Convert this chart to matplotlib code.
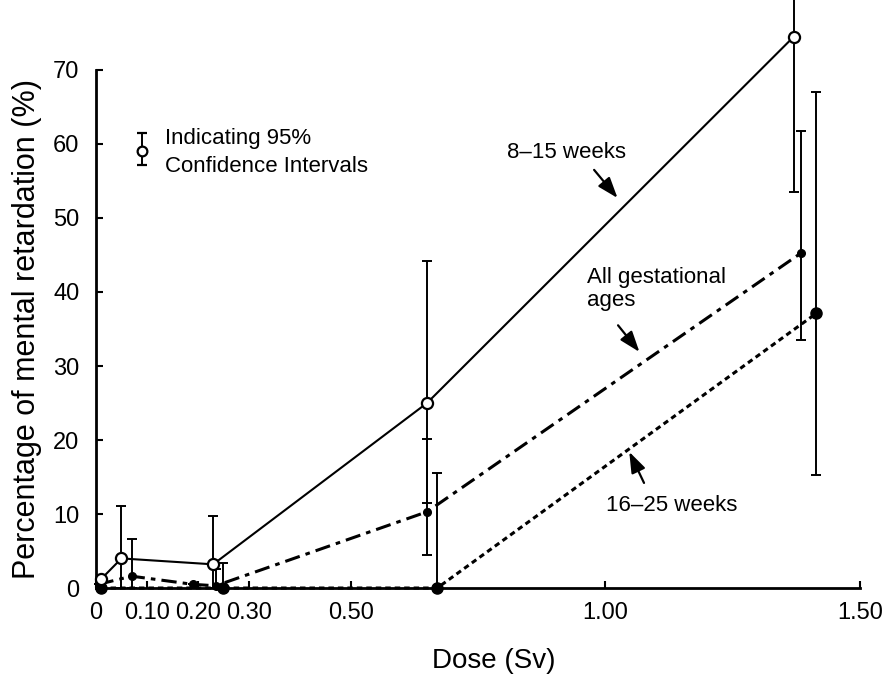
import matplotlib
matplotlib.use("Agg")
import matplotlib.pyplot as plt

plt.rcParams['font.family'] = ['Liberation Sans', 'DejaVu Sans']

# dose (Sv) and percentage with 95% CI bounds
w8_dose = [0.01, 0.05, 0.23, 0.65, 1.37]
w8_pct = [1.2, 4.0, 3.2, 25.0, 74.5]
w8_low = [1.2, 0.0, 0.0, 11.5, 53.5]
w8_high = [1.2, 11.1, 9.7, 44.2, 82.0]

all_dose = [0.005, 0.07, 0.19, 0.235, 0.65, 1.385]
all_pct = [0.5, 1.6, 0.5, 0.3, 10.3, 45.3]
all_low = [0.5, 0.0, 0.5, 0.0, 4.5, 33.5]
all_high = [0.5, 6.6, 0.5, 2.6, 20.2, 61.8]

w16_dose = [0.01, 0.25, 0.67, 1.414]
w16_pct = [0.0, 0.0, 0.0, 37.1]
w16_low = [0.0, 0.0, 0.0, 15.3]
w16_high = [0.0, 3.4, 15.6, 67.0]

x_ticks = [0, 0.10, 0.20, 0.30, 0.50, 1.00, 1.50]
x_labels = ["0", "0.10", "0.20", "0.30", "0.50", "1.00", "1.50"]
y_ticks = [0, 10, 20, 30, 40, 50, 60, 70]


def _err(vals, low, high):
    return [[v - l for v, l in zip(vals, low)], [h - v for v, h in zip(vals, high)]]


fig = plt.figure(figsize=(8.92, 6.82), dpi=100)
ax = fig.add_axes([0.1076, 0.1378, 0.8565, 0.7596])

ebkw = dict(ecolor="black", elinewidth=1.4, capsize=3.5, capthick=1.4, fmt="none")

# error bars
for d, p, lo, hi in [(w8_dose, w8_pct, w8_low, w8_high),
                     (all_dose, all_pct, all_low, all_high),
                     (w16_dose, w16_pct, w16_low, w16_high)]:
    eb = ax.errorbar(d, p, yerr=_err(p, lo, hi), **ebkw)
    for art in eb.lines[1] + eb.lines[2]:
        art.set_clip_on(False)

# 8-15 weeks
ax.plot(w8_dose, w8_pct, color="black", lw=1.5, marker="o", ms=8,
        mfc="white", mec="black", mew=1.6, clip_on=False, zorder=5)
# all gestational ages
ax.plot(all_dose, all_pct, color="black", lw=2.2, dashes=(5, 2, 1.5, 2),
        marker="o", ms=5.5, mfc="black", mec="black", clip_on=False, zorder=4)
# 16-25 weeks
ax.plot(w16_dose, w16_pct, color="black", lw=2.2, dashes=(1.8, 1.3),
        marker="o", ms=8, mfc="black", mec="black", clip_on=False, zorder=4)

ax.set_xlim(0, 1.5)
ax.set_ylim(0, 70)
ax.set_xticks(x_ticks)
ax.set_xticklabels(x_labels)
ax.set_yticks(y_ticks)
ax.tick_params(direction="in", length=5, width=1.5, labelsize=17)
ax.tick_params(axis="x", pad=10)
ax.tick_params(axis="y", pad=12)
for s in ["top", "right"]:
    ax.spines[s].set_visible(False)
for s in ["left", "bottom"]:
    ax.spines[s].set_linewidth(2)

ax.set_xlabel("Dose (Sv)", fontsize=20, labelpad=18)
ax.xaxis.set_label_coords(0.52, -0.115)
ax.set_ylabel("Percentage of mental retardation (%)", fontsize=22, labelpad=8)

# annotations
arrow = dict(arrowstyle="-|>,head_length=0.7,head_width=0.25", color="black", lw=1.6,
             mutation_scale=18, shrinkA=0, shrinkB=0)
ax.text(1.041, 58.9, "8\u201315 weeks", fontsize=16, ha="right", va="center")
ax.annotate("", xy=(1.024, 52.7), xytext=(0.978, 56.5), arrowprops=arrow)
ax.text(0.965, 40.4, "All gestational\nages", fontsize=16, ha="left", va="center",
        linespacing=1.15)
ax.annotate("", xy=(1.067, 31.9), xytext=(1.025, 35.5), arrowprops=arrow)
ax.text(1.002, 11.2, "16\u201325 weeks", fontsize=16, ha="left", va="center")
ax.annotate("", xy=(1.047, 18.4), xytext=(1.076, 14.2), arrowprops=arrow)

# legend key
ax.errorbar([0.09], [59.05], yerr=[[1.85], [2.45]], fmt="o", color="black", ms=7,
            mfc="white", mec="black", mew=1.6, elinewidth=1.4, capsize=3.5, capthick=1.4)
ax.text(0.135, 60.8, "Indicating 95%", fontsize=16, ha="left", va="center")
ax.text(0.135, 56.9, "Confidence Intervals", fontsize=16, ha="left", va="center")

plt.savefig("out.png", dpi=100)
plt.close()
